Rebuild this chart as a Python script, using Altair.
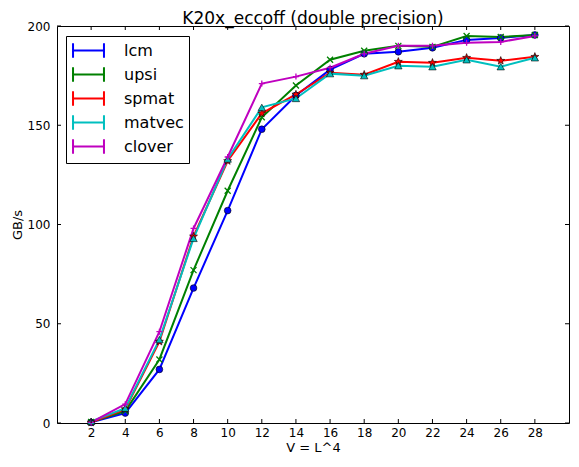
import math
import altair as alt
import pandas as pd

# ---- data ----
x_vals = [2, 4, 6, 8, 10, 12, 14, 16, 18, 20, 22, 24, 26, 28]
series_names = ["lcm", "upsi", "spmat", "matvec", "clover"]
lcm = [0.3, 5, 27, 68, 107, 148, 165, 178, 186, 187, 189, 193, 194, 195.5]
upsi = [0.5, 6, 32, 77, 117, 154, 170, 183, 187.5, 190, 189.5, 195, 194.5, 195.5]
spmat = [0.3, 7, 41, 94, 132, 156, 165.5, 176.5, 175.5, 182, 181.5, 184, 182.5, 184.5]
matvec = [0.8, 7.5, 42, 93, 133, 159, 163.5, 176, 175, 180, 179.5, 183, 179.5, 184]
clover = [0.3, 9.5, 46, 98, 134, 171, 174.5, 179, 186, 190, 190, 191.5, 192, 195]
x_ticks = [2, 4, 6, 8, 10, 12, 14, 16, 18, 20, 22, 24, 26, 28]
y_ticks = [0, 50, 100, 150, 200]
colors = ["#0000ff", "#008000", "#ff0000", "#00bfbf", "#bf00bf"]

rows = []
for name, vals in zip(series_names, [lcm, upsi, spmat, matvec, clover]):
    for xv, yv in zip(x_vals, vals):
        rows.append({"V": xv, "GBs": yv, "series": name})
df = pd.DataFrame(rows)

W, H = 512, 397
FONT = "DejaVu Sans"

xs = alt.Scale(domain=[0, 30], nice=False, zero=False)
ys = alt.Scale(domain=[0, 200], nice=False)
cs = alt.Scale(domain=series_names, range=colors)

pts = []
for k in range(10):
    r = 1.0 if k % 2 == 0 else 0.42
    a = math.radians(-90 + 36 * k)
    pts.append(f"{r*math.cos(a):.3f},{r*math.sin(a):.3f}")
star = "M" + "L".join(pts) + "Z"
marker_styles = {
    "lcm": dict(shape="circle", filled=True, size=45),
    "upsi": dict(shape="M-1,-1L1,1M-1,1L1,-1", filled=False, size=36),
    "spmat": dict(shape=star, filled=True, size=70),
    "matvec": dict(shape="triangle-up", filled=True, size=55),
    "clover": dict(shape="M-1,0L1,0M0,-1L0,1", filled=False, size=36),
}

# legend glyph: a line with error-bar caps at both ends
legend_glyph = "M-1.82,0L1.82,0M-1.82,-0.85L-1.82,0.85M1.82,-0.85L1.82,0.85"

X = alt.X("V:Q", scale=xs, axis=alt.Axis(values=x_ticks, title="V = L^4", labelPadding=4,
                                         titlePadding=3, labelOverlap=False))
Y = alt.Y("GBs:Q", scale=ys, axis=alt.Axis(values=y_ticks, title="GB/s", labelPadding=7,
                                           titlePadding=3, labelOverlap=False))

base = alt.Chart(df)
lines = base.mark_line(strokeWidth=2).encode(
    x=X, y=Y,
    color=alt.Color("series:N", scale=cs, sort=series_names,
                    legend=alt.Legend(title=None, orient="none", legendX=9, legendY=10,
                                      symbolType=legend_glyph, symbolSize=289,
                                      symbolStrokeWidth=2, symbolOffset=8,
                                      labelFontSize=16, labelFont=FONT, labelOffset=26,
                                      labelColor="black",
                                      padding=5, rowPadding=1, strokeColor="black",
                                      fillColor="white", cornerRadius=0)),
)

layers = [lines]
for name, col in zip(series_names, colors):
    st = marker_styles[name]
    sub = base.transform_filter(alt.datum.series == name)
    if st["filled"]:
        m = sub.mark_point(shape=st["shape"], filled=True, size=st["size"], opacity=1,
                           fill=col, stroke="black", strokeWidth=0.6)
    else:
        m = sub.mark_point(shape=st["shape"], filled=False, size=st["size"], opacity=1,
                           stroke=col, strokeWidth=1.3)
    layers.append(m.encode(x=X, y=Y))

xt = pd.DataFrame({"V": x_ticks})
yt = pd.DataFrame({"GBs": y_ticks})
layers += [
    alt.Chart(xt).mark_rule(color="black").encode(x=X, y=alt.value(H), y2=alt.value(H - 4)),
    alt.Chart(xt).mark_rule(color="black").encode(x=X, y=alt.value(0), y2=alt.value(4)),
    alt.Chart(yt).mark_rule(color="black").encode(y=Y, x=alt.value(0), x2=alt.value(4)),
    alt.Chart(yt).mark_rule(color="black").encode(y=Y, x=alt.value(W - 4), x2=alt.value(W)),
]

chart = alt.layer(*layers).properties(
    width=W, height=H,
    title=alt.TitleParams("K20x_eccoff (double precision)", fontSize=17, fontWeight="normal",
                          font=FONT, color="black", offset=0, dy=8, anchor="middle",
                          frame="group"),
    autosize=alt.AutoSizeParams(type="none"),
    padding={"left": 49, "top": 18, "right": 1, "bottom": 32},
).configure_view(stroke="black", strokeWidth=1).configure_axis(
    domain=False, ticks=False, grid=False, labelFont=FONT, labelFontSize=12,
    labelColor="black", titleFont=FONT, titleFontSize=13, titleFontWeight="normal",
    titleColor="black",
).configure_axisX(labelOverlap=False)

chart.save("out.html", embed_options={"renderer": "svg", "actions": False})
